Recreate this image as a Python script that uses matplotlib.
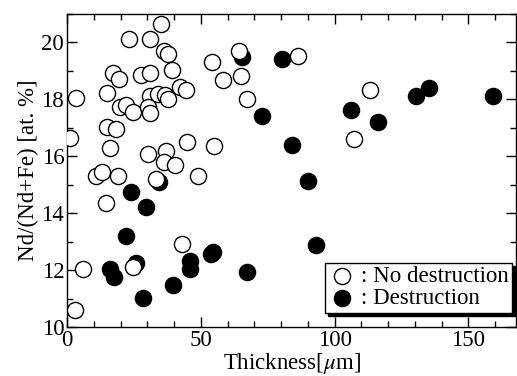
import numpy as np
import matplotlib.pyplot as plt

plt.rcParams['font.family'] = 'Liberation Serif'
plt.rcParams['mathtext.fontset'] = 'stix'

# No destruction (open circles)
open_x = [35.0, 23.0, 31.0, 36.2, 37.7, 64.1, 54.1, 17.2, 19.4, 27.8, 31.1, 39.1,
          58.2, 65.1, 3.2, 14.9, 31.1, 33.9, 36.8, 37.8, 42.1, 44.3, 67.2, 19.7,
          22.2, 24.6, 30.2, 30.9, 1.0, 14.9, 18.4, 16.2, 30.2, 37.1, 36.2, 40.2,
          44.9, 54.9, 11.0, 13.1, 19.0, 33.4, 48.9, 86.2, 113.2, 107.3, 14.4,
          43.1, 24.6, 6.0, 2.9]
open_y = [20.64, 20.12, 20.12, 19.70, 19.61, 19.70, 19.33, 18.92, 18.70, 18.85, 18.92, 19.02,
          18.68, 18.82, 18.06, 18.21, 18.12, 18.18, 18.14, 18.02, 18.43, 18.32, 18.02, 17.74,
          17.79, 17.55, 17.73, 17.53, 16.65, 17.03, 16.96, 16.29, 16.08, 16.20, 15.79, 15.70,
          16.49, 16.37, 15.29, 15.45, 15.29, 15.20, 15.32, 19.53, 18.33, 16.61, 14.35,
          12.90, 12.10, 12.03, 10.59]

# Destruction (filled circles)
fill_x = [65.3, 80.2, 130.4, 135.3, 159.3, 106.2, 116.3, 84.1, 90.2, 72.9, 93.1,
          34.3, 23.8, 29.6, 21.9, 54.7, 54.0, 46.0, 46.0, 15.9, 17.4, 25.9, 39.6,
          67.2, 28.4]
fill_y = [19.50, 19.42, 18.12, 18.41, 18.12, 17.61, 17.21, 16.41, 15.12, 17.43, 12.87,
          15.11, 14.76, 14.23, 13.20, 12.64, 12.58, 12.33, 12.03, 12.03, 11.77, 12.24, 11.49,
          11.93, 11.03]

fs = 16.5

fig = plt.figure(figsize=(5.17, 3.76), dpi=100)
ax = fig.add_axes([0.1296, 0.1303, 0.8694, 0.8325])

ax.scatter(fill_x, fill_y, s=135, facecolor='black', edgecolor='black',
           linewidth=1, zorder=2, label=': Destruction')
ax.scatter(open_x, open_y, s=135, facecolor='white', edgecolor='black',
           linewidth=1, zorder=3, label=': No destruction')

ax.set_xlim(0, 168)
ax.set_ylim(10, 21)
ax.set_xticks([0, 50, 100, 150])
ax.set_xticks(np.arange(0, 168, 10), minor=True)
ax.set_yticks([10, 12, 14, 16, 18, 20])
ax.set_yticks(np.arange(10, 21.5, 1), minor=True)
ax.tick_params(which='both', direction='in', top=True, right=True, labelsize=fs,
               width=1, pad=2)
ax.tick_params(which='major', length=7)
ax.tick_params(which='minor', length=4)
for sp in ax.spines.values():
    sp.set_linewidth(1)

ax.set_xlabel(r'Thickness[$\mu$m]', fontsize=fs, labelpad=0)
ax.set_ylabel('Nd/(Nd+Fe) [at. %]', fontsize=fs, labelpad=2)

h, l = ax.get_legend_handles_labels()
leg = ax.legend(h[::-1], l[::-1], loc='lower right', bbox_to_anchor=(0.99, 0.045),
                fontsize=fs, fancybox=False, edgecolor='black', framealpha=1,
                handletextpad=0.2, borderpad=0.15, labelspacing=0.05, borderaxespad=0,
                handlelength=1.2, shadow={'color': 'black', 'alpha': 1, 'ox': 2, 'oy': -2})
leg.get_frame().set_linewidth(1)

fig.savefig('out.png', dpi=100)
